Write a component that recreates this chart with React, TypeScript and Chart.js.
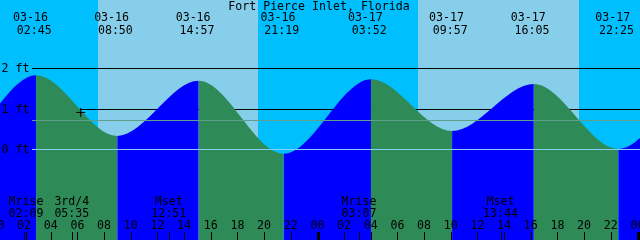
import { useEffect, useRef } from 'react';
import { Chart, registerables } from 'chart.js';

Chart.register(...registerables);

const TITLE = 'Fort Pierce Inlet, Florida';

// Tide extremes (incl. one before / after the window so the curve is continuous)
const tideDates = ['03-15', '03-15', '03-16', '03-16', '03-16', '03-16', '03-17', '03-17', '03-17', '03-17', '03-18', '03-18'];
const tideTimes = ['13:50', '20:00', '02:45', '08:50', '14:57', '21:19', '03:52', '09:57', '16:05', '22:25', '04:55', '11:00'];
const tideHeights = [1.7, -0.12, 1.86, 0.36, 1.72, -0.08, 1.76, 0.48, 1.64, 0.04, 1.75, 0.5];

// Sun
const sunDates = ['03-16', '03-17'];
const sunriseTimes = ['07:24', '07:24'];
const sunsetTimes = ['19:24', '19:27'];

// Moon events
const moonDates = ['03-16', '03-16', '03-16', '03-17', '03-17'];
const moonTimes = ['02:09', '05:35', '12:51', '03:07', '13:44'];
const moonLabels = ['Mrise', '3rd/4', 'Mset', 'Mrise', 'Mset'];

// Level lines
const levelValues = [0, 1, 2];
const levelLabels = ['0 ft', '1 ft', '2 ft'];
const mslValue = 0.735;

// Current-time marker
const markerDate = '03-16';
const markerTime = '06:06';
const markerHeight = 0.94;

// Hour axis
const tickHours = [0, 2, 4, 6, 8, 10, 12, 14, 16, 18, 20, 22, 24, 26, 28, 30, 32, 34, 36, 38, 40, 42, 44, 46, 48];
const tickLabels = ['00', '02', '04', '06', '08', '10', '12', '14', '16', '18', '20', '22', '00', '02', '04', '06', '08', '10', '12', '14', '16', '18', '20', '22', '00'];
const dayBoundaryHours = [24, 48];

const X_MIN = 0.045;
const X_MAX = 48.045;
const Y_MIN = -2.21;
const Y_MAX = 3.716;

const DAY = '#87ceeb';
const NIGHT = '#00bfff';
const RISE = '#0000ff';
const FALL = '#2e8b57';
const ZERO_COLOR = '#87cefa';
const MSL_COLOR = '#5f9f8c';
const FONT = '11.6px "DejaVu Sans Mono", "Liberation Mono", monospace';

const dayIndex: Record<string, number> = { '03-15': -1, '03-16': 0, '03-17': 1, '03-18': 2 };
function hoursOf(date: string, time: string): number {
  const [hh, mm] = time.split(':').map(Number);
  return dayIndex[date] * 24 + hh + mm / 60;
}

const tidePoints = tideDates.map((d, i) => ({ x: hoursOf(d, tideTimes[i]), y: tideHeights[i] }));

const tidePlugin = {
  id: 'tideDecor',
  beforeDatasetsDraw(chart: any) {
    const { ctx, chartArea: a, scales } = chart;
    const xs = scales.x;
    const ys = scales.y;
    ctx.save();
    ctx.fillStyle = NIGHT;
    ctx.fillRect(a.left, a.top, a.right - a.left, a.bottom - a.top);
    ctx.fillStyle = DAY;
    sunDates.forEach((d, i) => {
      const x1 = Math.round(xs.getPixelForValue(hoursOf(d, sunriseTimes[i])));
      const x2 = Math.round(xs.getPixelForValue(hoursOf(d, sunsetTimes[i])));
      ctx.fillRect(x1, a.top, x2 - x1, a.bottom - a.top);
    });
    ctx.strokeStyle = '#000';
    ctx.lineWidth = 1;
    levelValues.forEach((v) => {
      if (v === 0) return;
      const py = Math.floor(ys.getPixelForValue(v) - 0.5) + 0.5;
      ctx.beginPath();
      ctx.moveTo(32, py);
      ctx.lineTo(a.right, py);
      ctx.stroke();
    });
    ctx.restore();
  },
  afterDatasetsDraw(chart: any) {
    const { ctx, chartArea: a, scales } = chart;
    const xs = scales.x;
    const ys = scales.y;
    ctx.save();
    ctx.lineWidth = 1;
    const drawH = (v: number, color: string) => {
      const py = Math.floor(ys.getPixelForValue(v) - 0.5) + 0.5;
      ctx.strokeStyle = color;
      ctx.beginPath();
      ctx.moveTo(32, py);
      ctx.lineTo(a.right, py);
      ctx.stroke();
    };
    drawH(0, ZERO_COLOR);
    drawH(mslValue, MSL_COLOR);

    ctx.font = FONT;
    ctx.fillStyle = '#000';
    ctx.textBaseline = 'alphabetic';

    ctx.textAlign = 'center';
    ctx.fillText(TITLE, 319, 10);

    tideDates.forEach((d, i) => {
      const h = hoursOf(d, tideTimes[i]);
      if (h < 0 || h > 48) return;
      const ex = xs.getPixelForValue(h);
      ctx.fillText(d, ex - 5.6, 21);
      ctx.fillText(tideTimes[i], ex - 1.8, 34);
    });

    ctx.textAlign = 'left';
    levelValues.forEach((v, i) => {
      const py = Math.floor(ys.getPixelForValue(v) - 0.5) + 0.5;
      ctx.fillText(levelLabels[i], 1.5, py + 3.5);
    });

    ctx.textAlign = 'center';
    ctx.strokeStyle = '#000';
    moonDates.forEach((d, i) => {
      const ex = xs.getPixelForValue(hoursOf(d, moonTimes[i]));
      ctx.fillText(moonLabels[i], ex - 2, 205);
      ctx.fillText(moonTimes[i], ex - 2, 217);
      const tx = Math.floor(ex - 1.5) + 0.5;
      ctx.beginPath();
      ctx.moveTo(tx, 232);
      ctx.lineTo(tx, 240);
      ctx.stroke();
    });

    tickHours.forEach((h, i) => {
      const ex = xs.getPixelForValue(h);
      ctx.fillText(tickLabels[i], ex - 2, 229);
      if (dayBoundaryHours.includes(h)) {
        ctx.fillRect(Math.round(ex - 2.5), 232, 3, 8);
      } else {
        const tx = Math.floor(ex - 1.5) + 0.5;
        ctx.beginPath();
        ctx.moveTo(tx, 232);
        ctx.lineTo(tx, 240);
        ctx.stroke();
      }
    });
    ctx.restore();
  },
};

export default function App() {
  const ref = useRef<HTMLCanvasElement | null>(null);
  useEffect(() => {
    if (!ref.current) return;
    const chart = new Chart(ref.current, {
      type: 'line',
      data: {
        datasets: [
          {
            label: 'now',
            data: [{ x: hoursOf(markerDate, markerTime), y: markerHeight }],
            showLine: false,
            fill: false,
            pointStyle: 'cross',
            pointRadius: 4.5,
            pointBorderColor: '#000',
            pointBorderWidth: 1,
            pointBackgroundColor: '#000',
          },
          {
            label: 'tide',
            data: tidePoints,
            cubicInterpolationMode: 'monotone',
            borderColor: 'rgba(0,0,0,0)',
            borderWidth: 0,
            pointRadius: 0,
            fill: 'start',
            backgroundColor: RISE,
            segment: {
              backgroundColor: (c: any) => (c.p1.parsed.y > c.p0.parsed.y ? RISE : FALL),
            },
          },
        ],
      },
      options: {
        animation: false,
        responsive: false,
        events: [],
        layout: { padding: 0, autoPadding: false },
        plugins: {
          legend: { display: false },
          tooltip: { enabled: false },
          title: { display: false },
        },
        scales: {
          x: {
            type: 'linear',
            display: false,
            bounds: 'data',
            afterDataLimits: (s: any) => {
              s.min = X_MIN;
              s.max = X_MAX;
            },
          },
          y: { type: 'linear', display: false, min: Y_MIN, max: Y_MAX },
        },
      },
      plugins: [tidePlugin],
    } as any);
    return () => chart.destroy();
  }, []);
  return (
    <div style={{ position: 'fixed', left: 0, top: 0, width: 640, height: 240 }}>
      <canvas ref={ref} width={640} height={240} style={{ display: 'block', width: 640, height: 240 }} />
    </div>
  );
}
